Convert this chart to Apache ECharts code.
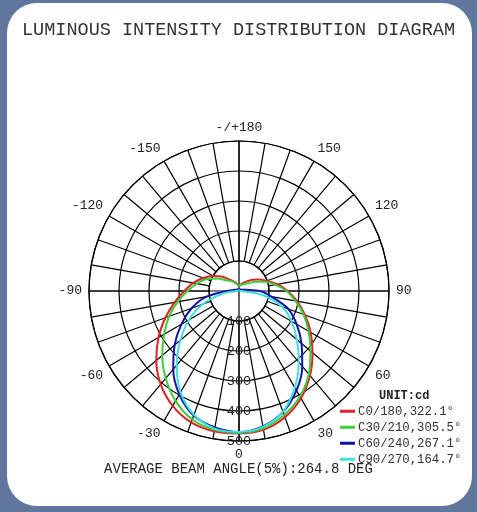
<!DOCTYPE html>
<html>
<head>
<meta charset="utf-8">
<script src="https://cdn.jsdelivr.net/npm/echarts@6/dist/echarts.min.js"></script>
<style>
  html, body { margin: 0; padding: 0; }
  #main { width: 477px; height: 512px; }
</style>
</head>
<body>
<div id="main"></div>
<script>
// gamma angles (deg), 0 = straight down, + to the right
var angles = [-180, -170, -160, -150, -140, -130, -120, -110, -100, -90, -80, -70, -60, -50, -40, -30, -20, -10,
              0, 10, 20, 30, 40, 50, 60, 70, 80, 90, 100, 110, 120, 130, 140, 150, 160, 170, 180];

// intensity (cd) per C-plane
var c0 = [17, 21, 28, 37, 50, 75, 100, 127, 155, 182, 218, 261, 310, 360, 406, 442, 466, 475,
          475, 470, 448, 413, 368, 320, 276, 234, 197, 162, 130, 98, 76, 58, 42, 32, 25, 20, 17];
var c30 = [17, 20, 26, 34, 44, 56, 84, 116, 143, 172, 208, 248, 288, 334, 380, 423, 456, 470,
           473, 465, 440, 406, 362, 311, 268, 229, 191, 158, 122, 90, 62, 40, 32, 26, 22, 19, 17];
var c60 = [6, 6, 6, 7, 7, 8, 9, 12, 20, 42, 112, 168, 222, 280, 341, 398, 442, 462,
           470, 458, 429, 383, 328, 272, 222, 175, 111, 70, 22, 12, 9, 8, 7, 7, 6, 6, 6];
var c90 = [2, 2, 2, 2, 2, 2, 3, 3, 3, 8, 59, 129, 193, 255, 323, 390, 439, 466,
           470, 460, 428, 372, 310, 252, 202, 152, 82, 8, 3, 3, 2, 2, 2, 2, 2, 2, 2];

var seriesNames = ['C0/180,322.1°', 'C30/210,305.5°', 'C60/240,267.1°', 'C90/270,164.7°'];
var curves = [c0, c30, c60, c90];
var colors = ['#e02228', '#3ccc3c', '#1414a8', '#3fe0e0'];

// angle tick labels (axis value 0..360 -> printed text)
var angleTickValues = [0, 30, 60, 90, 120, 150, 180, 210, 240, 270, 300, 330];
var angleTickTexts = ['0', '30', '60', '90', '120', '150', '-/+180', '-150', '-120', '-90', '-60', '-30'];
var radiusTicks = [100, 200, 300, 400, 500];

var mono = '"Liberation Mono", "DejaVu Sans Mono", monospace';
var cx = 239, cy = 291, R = 150;
var gridLine = { color: '#000', width: 1.2 };

var myChart = echarts.init(document.getElementById('main'));

var option = {
    backgroundColor: '#60769c',
    animation: false,
    graphic: [{
        type: 'rect',
        silent: true,
        z: -10,
        shape: { x: 7, y: 3, width: 465, height: 503, r: 30 },
        style: { fill: '#ffffff' }
    }],
    title: [{
        text: 'LUMINOUS INTENSITY DISTRIBUTION DIAGRAM',
        left: 'center',
        top: 16,
        textStyle: { fontFamily: mono, fontSize: 18.5, fontWeight: 'normal', color: '#333' }
    }, {
        text: 'AVERAGE BEAM ANGLE(5%):264.8 DEG',
        left: 'center',
        top: 457,
        textStyle: { fontFamily: mono, fontSize: 14, fontWeight: 'normal', color: '#222' }
    }, {
        text: 'UNIT:cd',
        left: 374,
        top: 385,
        textStyle: { fontFamily: mono, fontSize: 12, fontWeight: 'bold', color: '#222' }
    }],
    legend: {
        orient: 'vertical',
        left: 340,
        top: 405,
        padding: 0,
        itemWidth: 15,
        itemHeight: 3,
        itemGap: 3.5,
        icon: 'rect',
        textStyle: { fontFamily: mono, fontSize: 12.3, color: '#333', lineHeight: 12.5, padding: [0, 0, 0, -2] },
        data: seriesNames
    },
    polar: [
        { center: [cx, cy], radius: [R / 5, R] },   // spokes, from the 100 ring out
        { center: [cx, cy], radius: [0, R] }        // rings, main cross and curves
    ],
    angleAxis: [{
        polarIndex: 0,
        type: 'value',
        min: 0,
        max: 360,
        interval: 10,
        startAngle: 270,
        clockwise: false,
        axisLine: { show: true, lineStyle: gridLine },
        axisTick: { show: false },
        splitLine: { show: true, lineStyle: gridLine },
        axisLabel: {
            margin: 7,
            fontFamily: mono,
            fontSize: 13,
            color: '#222',
            formatter: function (v) {
                var i = angleTickValues.indexOf(v);
                return i < 0 ? '' : angleTickTexts[i];
            }
        }
    }, {
        polarIndex: 1,
        type: 'value',
        min: 0,
        max: 360,
        interval: 90,
        startAngle: 270,
        clockwise: false,
        axisLine: { show: false },
        axisTick: { show: false },
        axisLabel: { show: false },
        splitLine: { show: true, lineStyle: gridLine }
    }],
    radiusAxis: [{
        polarIndex: 0,
        type: 'value',
        min: 0,
        max: 1,
        show: false
    }, {
        polarIndex: 1,
        type: 'value',
        min: 0,
        max: 500,
        interval: 100,
        axisLine: { show: false },
        axisTick: { show: false },
        splitLine: { show: true, lineStyle: gridLine },
        axisLabel: {
            margin: 0,
            align: 'center',
            verticalAlign: 'middle',
            padding: [0, 0, 6, 0],
            fontFamily: mono,
            fontSize: 13.5,
            color: '#222',
            formatter: function (v) {
                return radiusTicks.indexOf(v) < 0 ? '' : String(v);
            }
        }
    }],
    series: seriesNames.map(function (name, i) {
        return {
            name: name,
            type: 'line',
            coordinateSystem: 'polar',
            polarIndex: 1,
            symbol: 'none',
            smooth: 0.3,
            lineStyle: { color: colors[i], width: 2 },
            itemStyle: { color: colors[i] },
            data: angles.map(function (a, j) {
                return [curves[i][j], (a + 360) % 360];
            })
        };
    })
};

myChart.setOption(option);
</script>
</body>
</html>
